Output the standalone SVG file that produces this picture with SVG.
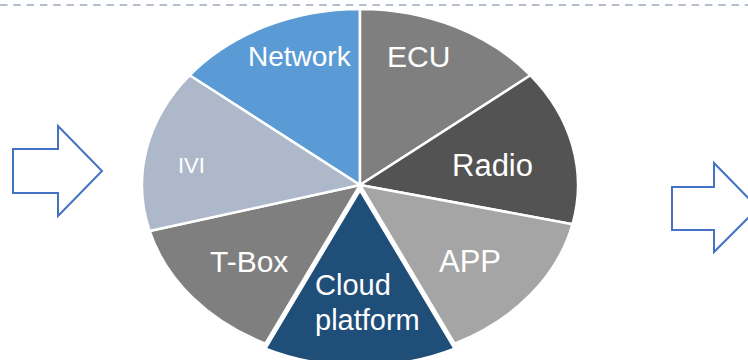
<svg xmlns="http://www.w3.org/2000/svg" width="748" height="360" viewBox="0 0 748 360">
  <style>
    .slice { stroke: #FFFFFF; stroke-width: 2.5; stroke-linejoin: miter; }
    .lbl { font-family: "Liberation Sans", Arial, sans-serif; fill: #FFFFFF; font-size: 30px; }
    .arrow { fill: #FFFFFF; stroke: #4472C4; stroke-width: 2; stroke-linejoin: miter; }
    .sep { stroke: #B4BECE; stroke-width: 2; stroke-dasharray: 7.5 5.8; fill: none; }
  </style>
  <rect x="0" y="0" width="748" height="360" fill="#FFFFFF"/>
  <line class="sep" x1="0" y1="5" x2="748" y2="5"/>

  <g id="arrow-left">
    <polygon class="arrow" points="13,149 58,149 58,126 102,171 58,216 58,193 13,193"/>
  </g>
  <g id="arrow-right">
    <polygon class="arrow" points="672,187 714,187 714,163 758,208 714,252 714,230 672,230"/>
  </g>

  <g id="pie">
    <g id="slice-network">
      <path class="slice" fill="#5B9BD5" d="M360,185 L189.56,75.27 A218,176 0 0 1 360,9 Z"/>
      <text class="lbl" x="248" y="66" style="font-size:28px">Network</text>
    </g>
    <g id="slice-ecu">
      <path class="slice" fill="#7F7F7F" d="M360,185 L360,9 A218,176 0 0 1 530.44,75.27 Z"/>
      <text class="lbl" x="387" y="67">ECU</text>
    </g>
    <g id="slice-radio">
      <path class="slice" fill="#535353" d="M360,185 L530.44,75.27 A218,176 0 0 1 572.53,224.16 Z"/>
      <text class="lbl" x="452" y="176" style="font-size:31px">Radio</text>
    </g>
    <g id="slice-app">
      <path class="slice" fill="#A5A5A5" d="M360,185 L572.53,224.16 A218,176 0 0 1 454.59,343.57 Z"/>
      <text class="lbl" x="439" y="272" style="font-size:31px">APP</text>
    </g>
    <g id="slice-cloud">
      <path class="slice" fill="#1F4E79" transform="translate(0,5)" d="M360,185 L454.59,343.57 A218,176 0 0 1 265.41,343.57 Z"/>
      <text class="lbl" x="315" y="295" style="font-size:29px">Cloud</text>
      <text class="lbl" x="315" y="330" style="font-size:29px">platform</text>
    </g>
    <g id="slice-tbox">
      <path class="slice" fill="#7F7F7F" d="M360,185 L265.41,343.57 A218,176 0 0 1 149.6,231 Z"/>
      <text class="lbl" x="210" y="272">T-Box</text>
    </g>
    <g id="slice-ivi">
      <path class="slice" fill="#ADB9CA" d="M360,185 L149.6,231 A218,176 0 0 1 189.56,75.27 Z"/>
      <text class="lbl" x="178" y="173" style="font-size:22px">IVI</text>
    </g>
  </g>
</svg>
